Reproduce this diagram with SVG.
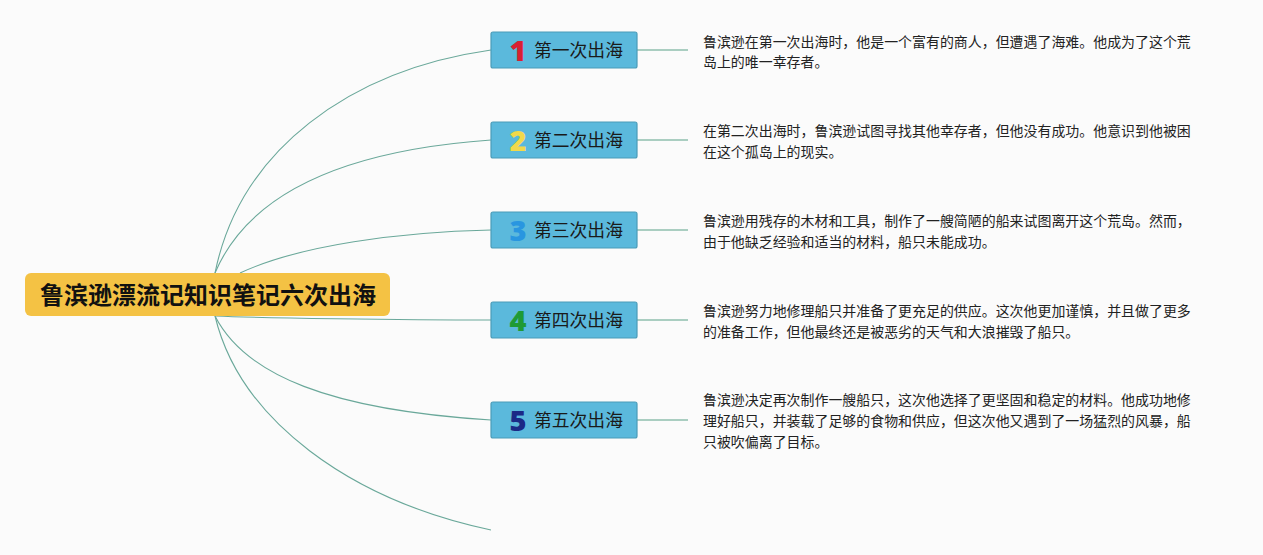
<svg xmlns="http://www.w3.org/2000/svg" width="1263" height="555" viewBox="0 0 1263 555">
<style>
.bg{fill:#fbfbfb}
.conn path{fill:none;stroke:#6aa89a;stroke-width:1.1}
.conn line{stroke:#8fbfae;stroke-width:1.3}
.box{fill:#5bb9dc;stroke:#4a9cb8;stroke-width:1.2}
.root{fill:#f4c244}
.rt{font-family:"Noto Sans CJK SC","Noto Sans",sans-serif;font-weight:bold;font-size:24px;fill:#111}
.lbl{font-family:"Noto Sans CJK SC","Noto Sans",sans-serif;font-size:17.8px;fill:#1a1a1a}
.num{font-family:"Noto Sans","Liberation Sans",sans-serif;font-weight:900;font-size:29px}
.desc{font-family:"Noto Sans CJK SC","Noto Sans",sans-serif;font-size:13.95px;fill:#222}
</style>
<rect class="bg" width="1263" height="555"/>
<g id="connectors" class="conn">
<path d="M215,273 C240,150 350,70 491,50"/>
<path d="M215,273 C250,190 350,150 491,140"/>
<path d="M240,273 C300,245 400,232 491,230"/>
<path d="M215,316 C260,318 400,320 491,320"/>
<path d="M215,316 C245,375 330,410 491,420"/>
<path d="M215,316 C240,420 350,500 491,530"/>
<line x1="637" y1="50" x2="688" y2="50"/>
<line x1="637" y1="140" x2="688" y2="140"/>
<line x1="637" y1="230" x2="688" y2="230"/>
<line x1="637" y1="320" x2="688" y2="320"/>
<line x1="637" y1="420" x2="688" y2="420"/>
</g>
<g id="root">
<rect class="root" x="25" y="273" width="365" height="43" rx="6"/>
<text class="rt" x="208" y="304" text-anchor="middle">鲁滨逊漂流记知识笔记六次出海</text>
</g>
<g id="n1">
<rect class="box" x="491" y="32" width="146" height="36" rx="2"/>
<text class="num" x="518" y="61" text-anchor="middle" fill="#d91f33">1</text>
<text class="lbl" x="534" y="57">第一次出海</text>
</g>
<g id="n2">
<rect class="box" x="491" y="122" width="146" height="36" rx="2"/>
<text class="num" x="518" y="151" text-anchor="middle" fill="#f2d94b">2</text>
<text class="lbl" x="534" y="147">第二次出海</text>
</g>
<g id="n3">
<rect class="box" x="491" y="212" width="146" height="36" rx="2"/>
<text class="num" x="518" y="241" text-anchor="middle" fill="#2996e0">3</text>
<text class="lbl" x="534" y="237">第三次出海</text>
</g>
<g id="n4">
<rect class="box" x="491" y="302" width="146" height="36" rx="2"/>
<text class="num" x="518" y="331" text-anchor="middle" fill="#1f9a35">4</text>
<text class="lbl" x="534" y="327">第四次出海</text>
</g>
<g id="n5">
<rect class="box" x="491" y="402" width="146" height="36" rx="2"/>
<text class="num" x="518" y="431" text-anchor="middle" fill="#1b2a86">5</text>
<text class="lbl" x="534" y="427">第五次出海</text>
</g>
<g id="d1" class="desc">
<text x="703" y="47">鲁滨逊在第一次出海时，他是一个富有的商人，但遭遇了海难。他成为了这个荒</text>
<text x="703" y="67">岛上的唯一幸存者。</text>
</g>
<g id="d2" class="desc">
<text x="703" y="136">在第二次出海时，鲁滨逊试图寻找其他幸存者，但他没有成功。他意识到他被困</text>
<text x="703" y="157">在这个孤岛上的现实。</text>
</g>
<g id="d3" class="desc">
<text x="703" y="226">鲁滨逊用残存的木材和工具，制作了一艘简陋的船来试图离开这个荒岛。然而，</text>
<text x="703" y="247">由于他缺乏经验和适当的材料，船只未能成功。</text>
</g>
<g id="d4" class="desc">
<text x="703" y="316">鲁滨逊努力地修理船只并准备了更充足的供应。这次他更加谨慎，并且做了更多</text>
<text x="703" y="337">的准备工作，但他最终还是被恶劣的天气和大浪摧毁了船只。</text>
</g>
<g id="d5" class="desc">
<text x="703" y="405">鲁滨逊决定再次制作一艘船只，这次他选择了更坚固和稳定的材料。他成功地修</text>
<text x="703" y="426">理好船只，并装载了足够的食物和供应，但这次他又遇到了一场猛烈的风暴，船</text>
<text x="703" y="447">只被吹偏离了目标。</text>
</g>
</svg>
